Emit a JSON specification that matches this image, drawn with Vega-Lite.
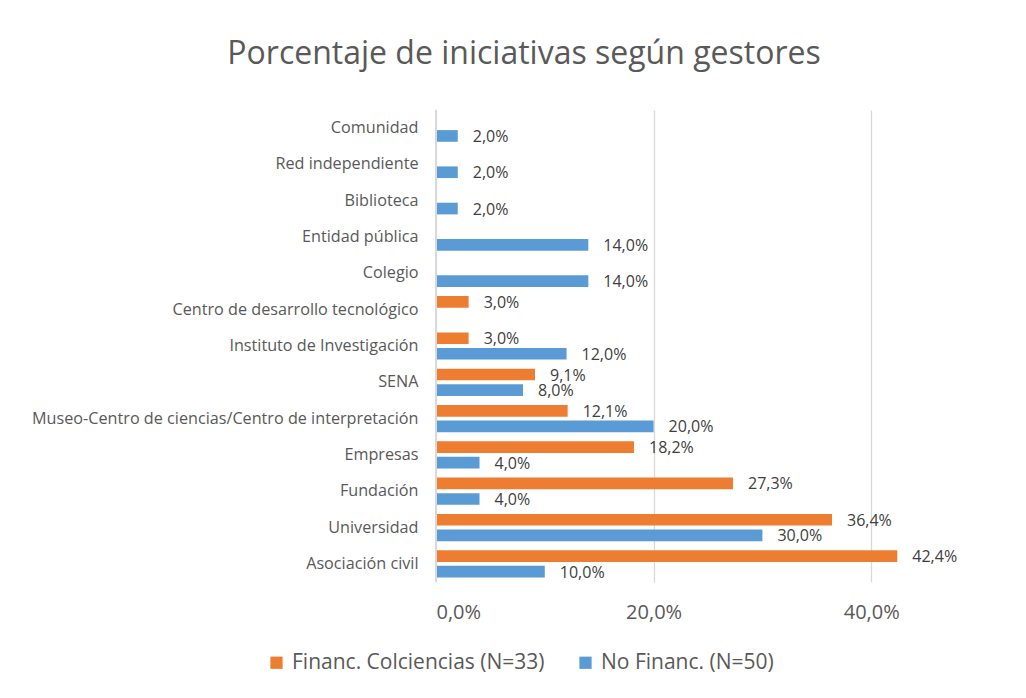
{
  "$schema": "https://vega.github.io/schema/vega-lite/v6.json",
  "autosize": {"type": "none"},
  "width": 544,
  "height": 472,
  "padding": {"left": 436, "top": 110, "right": 46, "bottom": 116},
  "background": "white",
  "config": {
    "locale": {"number": {"decimal": ",", "thousands": ".", "grouping": [3], "currency": ["", " €"]}},
    "view": {"stroke": null},
    "font": "Open Sans"
  },
  "title": {
    "text": "Porcentaje de iniciativas según gestores",
    "anchor": "middle",
    "frame": "group",
    "dx": -184,
    "offset": 38,
    "fontSize": 32,
    "font": "Open Sans",
    "fontWeight": "normal",
    "color": "#595959"
  },
  "data": {
    "values": [
      {"gestor": "Comunidad", "serie": "Financ. Colciencias (N=33)", "valor": null},
      {"gestor": "Comunidad", "serie": "No Financ.  (N=50)", "valor": 0.02},
      {"gestor": "Red independiente", "serie": "Financ. Colciencias (N=33)", "valor": null},
      {"gestor": "Red independiente", "serie": "No Financ.  (N=50)", "valor": 0.02},
      {"gestor": "Biblioteca", "serie": "Financ. Colciencias (N=33)", "valor": null},
      {"gestor": "Biblioteca", "serie": "No Financ.  (N=50)", "valor": 0.02},
      {"gestor": "Entidad pública", "serie": "Financ. Colciencias (N=33)", "valor": null},
      {"gestor": "Entidad pública", "serie": "No Financ.  (N=50)", "valor": 0.14},
      {"gestor": "Colegio", "serie": "Financ. Colciencias (N=33)", "valor": null},
      {"gestor": "Colegio", "serie": "No Financ.  (N=50)", "valor": 0.14},
      {"gestor": "Centro de desarrollo tecnológico", "serie": "Financ. Colciencias (N=33)", "valor": 0.03},
      {"gestor": "Centro de desarrollo tecnológico", "serie": "No Financ.  (N=50)", "valor": null},
      {"gestor": "Instituto de Investigación", "serie": "Financ. Colciencias (N=33)", "valor": 0.03},
      {"gestor": "Instituto de Investigación", "serie": "No Financ.  (N=50)", "valor": 0.12},
      {"gestor": "SENA", "serie": "Financ. Colciencias (N=33)", "valor": 0.091},
      {"gestor": "SENA", "serie": "No Financ.  (N=50)", "valor": 0.08},
      {"gestor": "Museo-Centro de ciencias/Centro de interpretación", "serie": "Financ. Colciencias (N=33)", "valor": 0.121},
      {"gestor": "Museo-Centro de ciencias/Centro de interpretación", "serie": "No Financ.  (N=50)", "valor": 0.2},
      {"gestor": "Empresas", "serie": "Financ. Colciencias (N=33)", "valor": 0.182},
      {"gestor": "Empresas", "serie": "No Financ.  (N=50)", "valor": 0.04},
      {"gestor": "Fundación", "serie": "Financ. Colciencias (N=33)", "valor": 0.273},
      {"gestor": "Fundación", "serie": "No Financ.  (N=50)", "valor": 0.04},
      {"gestor": "Universidad", "serie": "Financ. Colciencias (N=33)", "valor": 0.364},
      {"gestor": "Universidad", "serie": "No Financ.  (N=50)", "valor": 0.3},
      {"gestor": "Asociación civil", "serie": "Financ. Colciencias (N=33)", "valor": 0.424},
      {"gestor": "Asociación civil", "serie": "No Financ.  (N=50)", "valor": 0.1}
    ]
  },
  "encoding": {
    "y": {
      "field": "gestor",
      "type": "nominal",
      "sort": null,
      "scale": {"paddingInner": 0.25, "paddingOuter": 0.125},
      "axis": {
        "title": null,
        "ticks": false,
        "domain": false,
        "labelFontSize": 16.2,
        "labelColor": "#595959",
        "labelPadding": 18,
        "labelLimit": 500
      }
    },
    "yOffset": {
      "field": "serie",
      "type": "nominal",
      "sort": ["Financ. Colciencias (N=33)", "No Financ.  (N=50)"],
      "scale": {"paddingInner": 0.25}
    },
    "x": {
      "field": "valor",
      "type": "quantitative",
      "scale": {"domain": [0, 0.5], "nice": false},
      "axis": {
        "title": null,
        "values": [0, 0.2, 0.4],
        "format": ".1%",
        "ticks": false,
        "domain": false,
        "gridColor": "#D9D9D9",
        "gridWidth": 1.3,
        "labelFontSize": 20,
        "labelColor": "#595959",
        "labelPadding": 20
      }
    }
  },
  "layer": [
    {
      "mark": {"type": "bar"},
      "encoding": {
        "color": {
          "field": "serie",
          "type": "nominal",
          "scale": {
            "domain": ["Financ. Colciencias (N=33)", "No Financ.  (N=50)"],
            "range": ["#ED7D31", "#5B9BD5"]
          },
          "legend": {
            "title": null,
            "orient": "none",
            "direction": "horizontal",
            "legendX": -170,
            "legendY": 542,
            "symbolType": "square",
            "symbolSize": 150,
            "symbolStrokeWidth": 0,
            "labelFontSize": 21,
            "labelColor": "#595959",
            "labelOffset": 5,
            "columnPadding": 30,
            "labelLimit": 400
          }
        }
      }
    },
    {
      "mark": {"type": "rule", "color": "#D9D9D9", "strokeWidth": 1.5},
      "encoding": {"x": {"datum": 0}, "y": {"value": 0}, "y2": {"value": 472}, "yOffset": null}
    },
    {
      "mark": {"type": "text", "align": "left", "baseline": "middle", "dx": 15, "dy": 1, "fontSize": 16, "color": "#404040"},
      "encoding": {
        "text": {"field": "valor", "type": "quantitative", "format": ".1%"}
      }
    }
  ]
}
